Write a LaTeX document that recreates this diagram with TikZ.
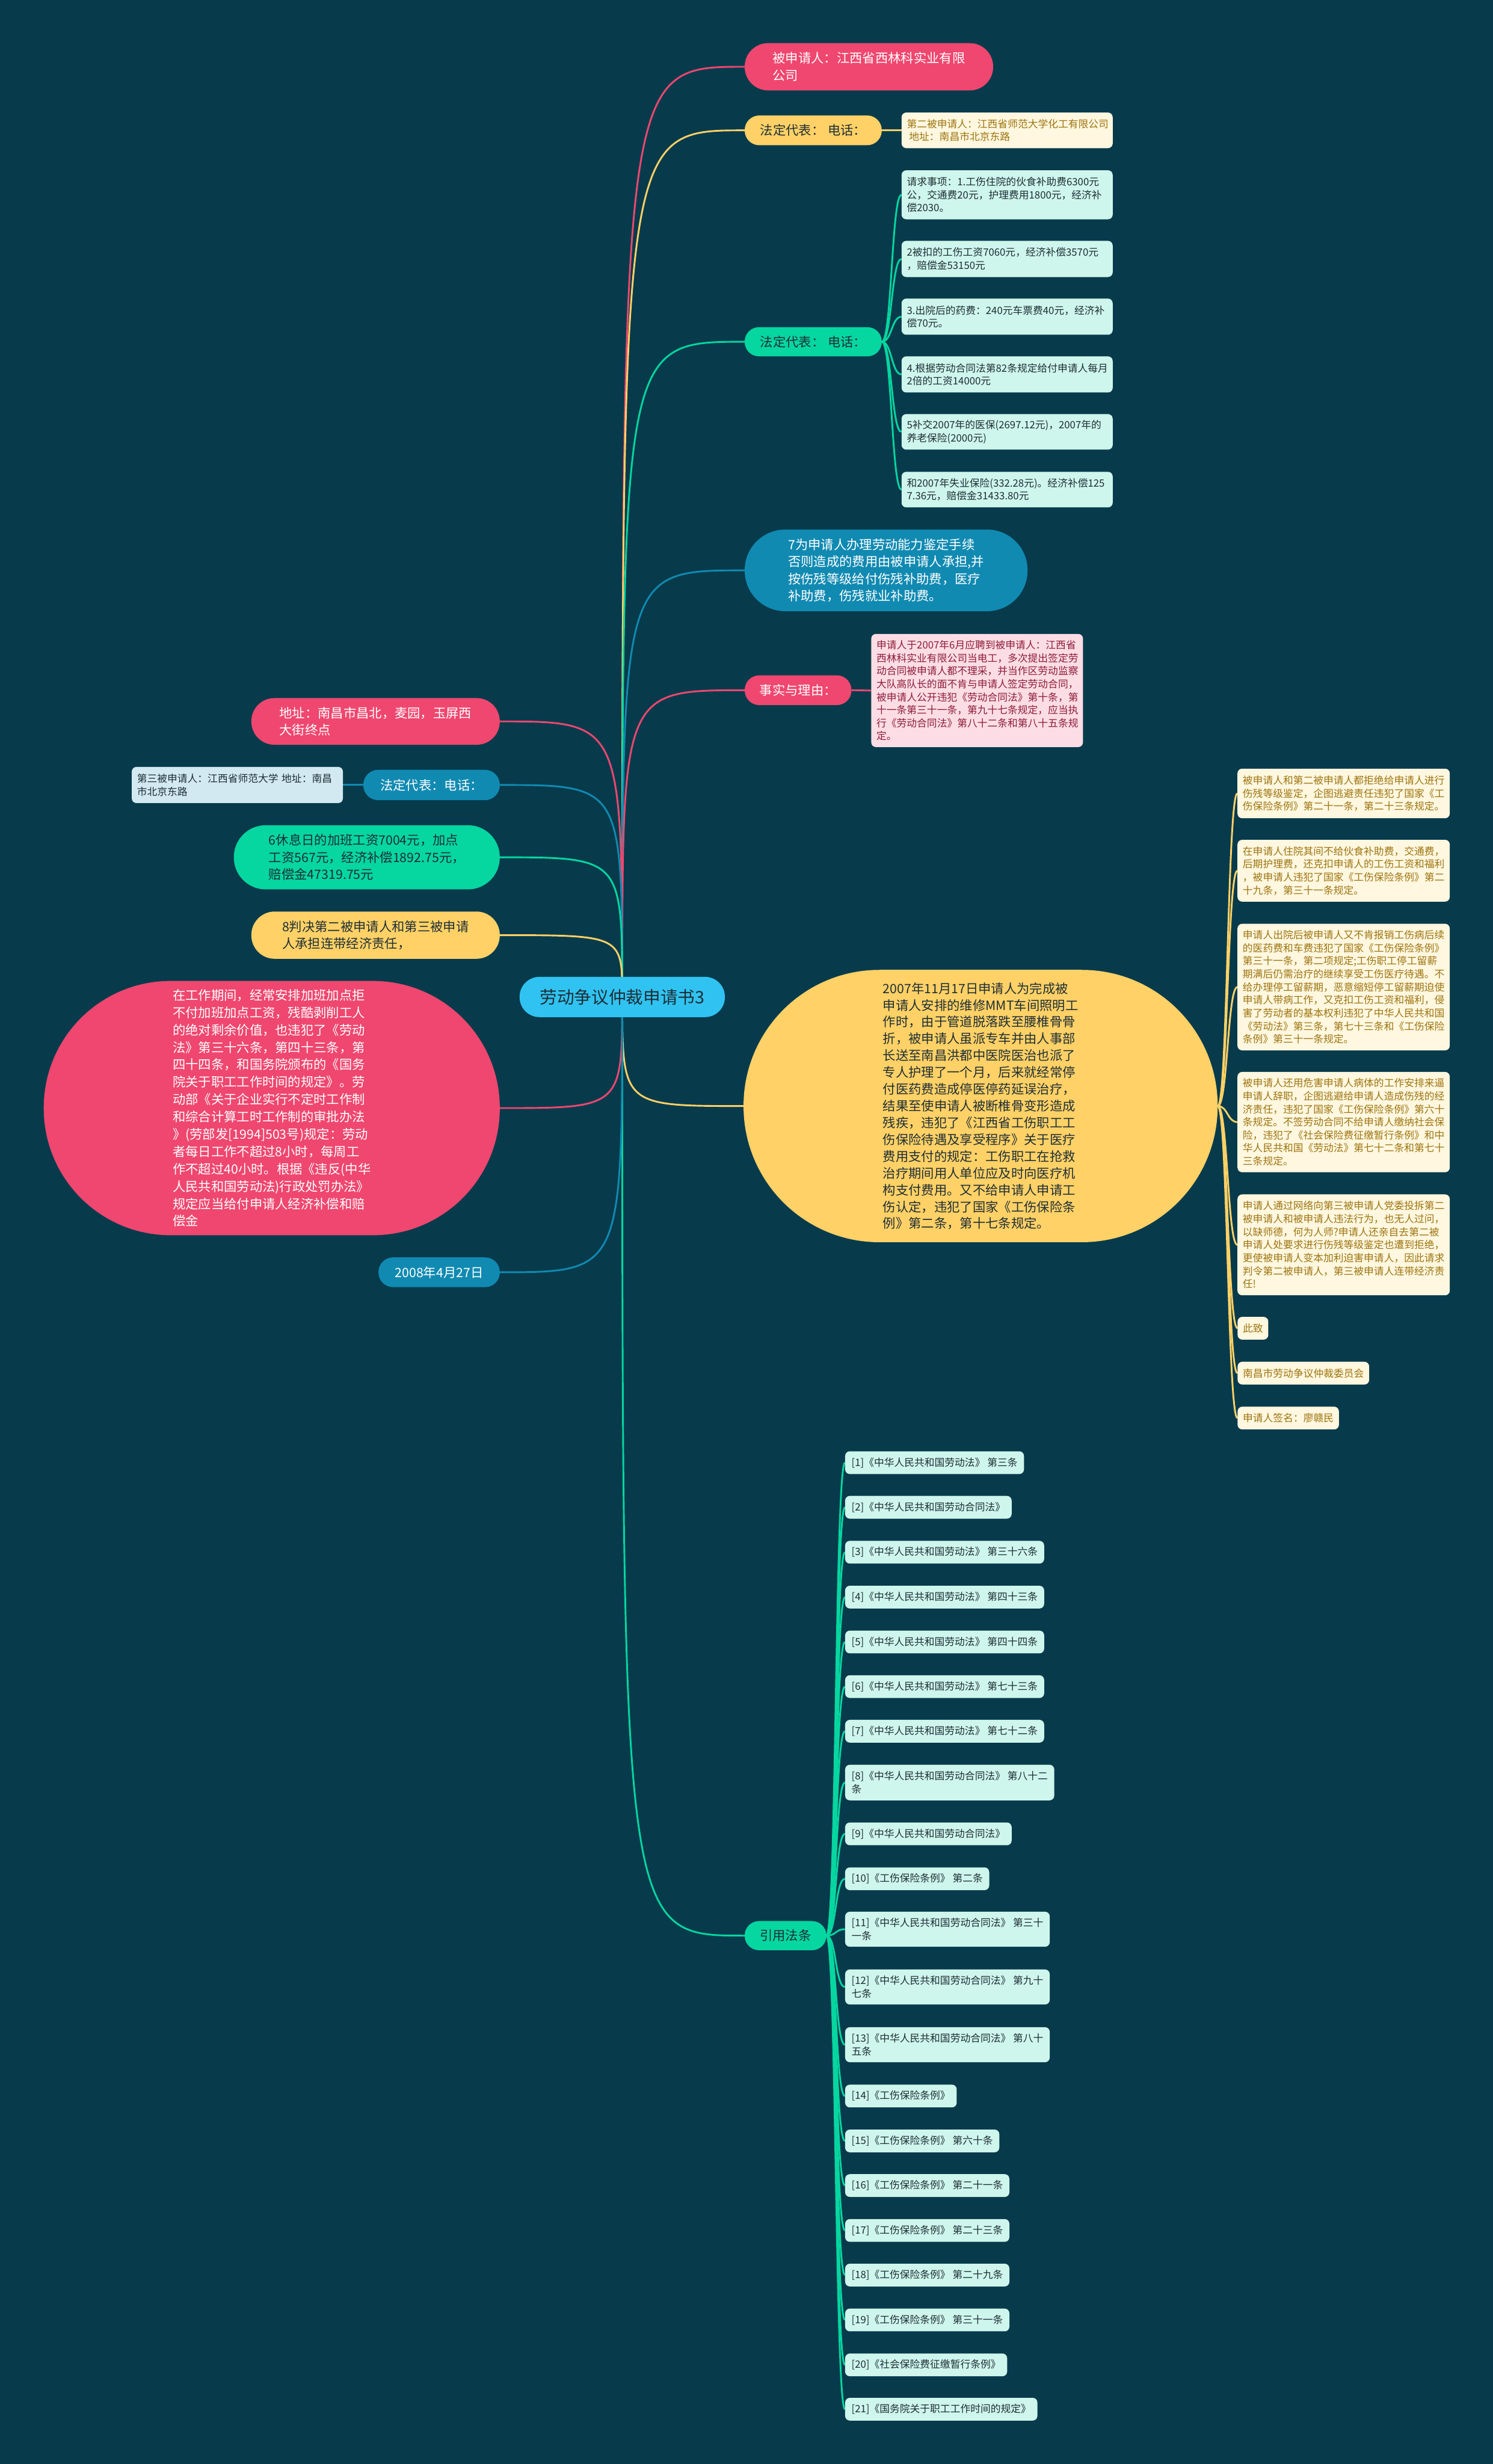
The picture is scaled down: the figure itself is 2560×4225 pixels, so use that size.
\documentclass[tikz,border=0pt]{standalone}
\usepackage{fontspec}
\setmainfont{Noto Sans CJK SC}
\usetikzlibrary{calc}
\definecolor{bgc}{HTML}{073B4C}
\definecolor{cpink}{HTML}{EF476F}
\definecolor{cyel}{HTML}{FFD166}
\definecolor{cgrn}{HTML}{06D6A0}
\definecolor{cblu}{HTML}{118AB2}
\definecolor{cctr}{HTML}{30C3F2}
\definecolor{fmint}{HTML}{CFF6EC}
\definecolor{fcream}{HTML}{FFF7DF}
\definecolor{fpink}{HTML}{FDDDE5}
\definecolor{fblue}{HTML}{D2E9F1}
\definecolor{tdark}{HTML}{1D2E35}
\definecolor{tcream}{HTML}{9C7410}
\definecolor{tpink}{HTML}{8C1C3A}
\pgfdeclarelayer{back}
\pgfdeclarelayer{lines}
\pgfsetlayers{back,lines,main}
\tikzset{
  lv/.style={inner sep=0pt, align=left, font=\fontsize{22}{29.5}\selectfont},
  pinkn/.style={lv, fill=cpink, text=white},
  yeln/.style={lv, fill=cyel, text=tdark},
  grnn/.style={lv, fill=cgrn, text=tdark},
  blun/.style={lv, fill=cblu, text=white},
  kid/.style={inner xsep=9pt, inner ysep=0pt, align=left, rounded corners=8pt,
              font=\fontsize{17.3}{22.3}\selectfont},
  mint/.style={kid, fill=fmint, text=tdark},
  cream/.style={kid, fill=fcream, text=tcream},
  pinkk/.style={kid, fill=fpink, text=tpink},
  bluek/.style={kid, fill=fblue, text=tdark},
  cite/.style={kid, fill=fmint, text=tdark, inner xsep=11pt, anchor=west, minimum height=39pt},
  ln/.style={line width=3pt},
}
\newcommand{\ctrlink}[3]{\draw[ln,#1] (O.center) .. controls (O.center |- #2.#3) .. (#2.#3);}
\newcommand{\rlink}[3]{\draw[ln,#1] (#2.east) .. controls +(17,0) and +(-17,0) .. (#3.west);}
\newcommand{\llink}[3]{\draw[ln,#1] (#2.west) .. controls +(-17,0) and +(17,0) .. (#3.east);}
\begin{document}
\begin{tikzpicture}[x=1pt,y=-1pt]
\begin{pgfonlayer}{back}
\fill[bgc] (0,0) rectangle (2560,4225);
\end{pgfonlayer}
\useasboundingbox (0,0) rectangle (2560,4225);

% center
\node[inner sep=0pt, fill=cctr, text=tdark, font=\fontsize{29.6}{36}\selectfont,
      minimum width=352pt, minimum height=69pt, rounded corners=34pt] (O) at (1067,1709.5) {劳动争议仲裁申请书3};

% ---- right side ----
\node[pinkn, minimum width=426pt, minimum height=81pt, rounded corners=40pt] (A) at (1490,114.5)
  {被申请人：江西省西林科实业有限\\公司};

\node[yeln, minimum width=235pt, minimum height=51pt, rounded corners=25pt] (B) at (1394.5,223.5)
  {法定代表：\hspace{6pt}电话：};
\node[cream, text width=344pt, minimum height=61pt] (B1) at (1727,223.5)
  {第二被申请人：江西省师范大学化工有限公司\\\hspace*{4pt}地址：南昌市北京东路};

\node[grnn, minimum width=235pt, minimum height=50pt, rounded corners=24.5pt] (C) at (1394.5,586)
  {法定代表：\hspace{6pt}电话：};
\node[mint, text width=344pt, minimum height=84pt] (C1) at (1727,334)
  {请求事项：1.工伤住院的伙食补助费6300元\\公，交通费20元，护理费用1800元，经济补\\偿2030。};
\node[mint, text width=344pt, minimum height=62pt] (C2) at (1727,444)
  {2被扣的工伤工资7060元，经济补偿3570元\\，赔偿金53150元};
\node[mint, text width=344pt, minimum height=62pt] (C3) at (1727,543)
  {3.出院后的药费：240元车票费40元，经济补\\偿70元。};
\node[mint, text width=344pt, minimum height=62pt] (C4) at (1727,642)
  {4.根据劳动合同法第82条规定给付申请人每月\\2倍的工资14000元};
\node[mint, text width=344pt, minimum height=61pt] (C5) at (1727,740.5)
  {5补交2007年的医保(2697.12元)，2007年的\\养老保险(2000元)};
\node[mint, text width=344pt, minimum height=61pt] (C6) at (1727,839.5)
  {和2007年失业保险(332.28元)。经济补偿125\\7.36元，赔偿金31433.80元};

\node[blun, minimum width=485pt, minimum height=140pt, rounded corners=69.5pt] (D) at (1519.5,978)
  {7为申请人办理劳动能力鉴定手续\\否则造成的费用由被申请人承担,并\\按伤残等级给付伤残补助费，医疗\\补助费，伤残就业补助费。};

\node[pinkn, minimum width=183pt, minimum height=51pt, rounded corners=25pt] (E) at (1368.5,1183.5)
  {事实与理由：};
\node[pinkk, text width=345pt, minimum height=194pt] (E1) at (1675.5,1184)
  {申请人于2007年6月应聘到被申请人：江西省\\西林科实业有限公司当电工，多次提出签定劳\\动合同被申请人都不理采，并当作区劳动监察\\大队高队长的面不肯与申请人签定劳动合同，\\被申请人公开违犯《劳动合同法》第十条，第\\十一条第三十一条，第九十七条规定，应当执\\行《劳动合同法》第八十二条和第八十五条规\\定。};

\node[yeln, font=\fontsize{22}{28.8}\selectfont, minimum width=813pt, minimum height=467pt, rounded corners=233pt] (F) at (1681.5,1896.5)
  {2007年11月17日申请人为完成被\\申请人安排的维修MMT车间照明工\\作时，由于管道脱落跌至腰椎骨骨\\折，被申请人虽派专车并由人事部\\长送至南昌洪都中医院医治也派了\\专人护理了一个月，后来就经常停\\付医药费造成停医停药延误治疗，\\结果至使申请人被断椎骨变形造成\\残疾，违犯了《江西省工伤职工工\\伤保险待遇及享受程序》关于医疗\\费用支付的规定：工伤职工在抢救\\治疗期间用人单位应及时向医疗机\\构支付费用。又不给申请人申请工\\伤认定，违犯了国家《工伤保险条\\例》第二条，第十七条规定。};
\node[cream, text width=346pt, minimum height=85pt] (F1) at (2304,1360.5)
  {被申请人和第二被申请人都拒绝给申请人进行\\伤残等级鉴定，企图逃避责任违犯了国家《工\\伤保险条例》第二十一条，第二十三条规定。};
\node[cream, text width=346pt, minimum height=106pt] (F2) at (2304,1493)
  {在申请人住院其间不给伙食补助费，交通费，\\后期护理费，还克扣申请人的工伤工资和福利\\，被申请人违犯了国家《工伤保险条例》第二\\十九条，第三十一条规定。};
\node[cream, text width=346pt, minimum height=217pt] (F3) at (2304,1692.5)
  {申请人出院后被申请人又不肯报销工伤病后续\\的医药费和车费违犯了国家《工伤保险条例》\\第三十一条，第二项规定;工伤职工停工留薪\\期满后仍需治疗的继续享受工伤医疗待遇。不\\给办理停工留薪期，恶意缩短停工留薪期迫使\\申请人带病工作，又克扣工伤工资和福利，侵\\害了劳动者的基本权利违犯了中华人民共和国\\《劳动法》第三条，第七十三条和《工伤保险\\条例》第三十一条规定。};
\node[cream, text width=346pt, minimum height=172pt] (F4) at (2304,1924)
  {被申请人还用危害申请人病体的工作安排来逼\\申请人辞职，企图逃避给申请人造成伤残的经\\济责任，违犯了国家《工伤保险条例》第六十\\条规定。不签劳动合同不给申请人缴纳社会保\\险，违犯了《社会保险费征缴暂行条例》和中\\华人民共和国《劳动法》第七十二条和第七十\\三条规定。};
\node[cream, text width=346pt, minimum height=173pt] (F5) at (2304,2134.5)
  {申请人通过网络向第三被申请人党委投拆第二\\被申请人和被申请人违法行为，也无人过问，\\以缺师德，何为人师?申请人还亲自去第二被\\申请人处要求进行伤残等级鉴定也遭到拒绝，\\更使被申请人变本加利迫害申请人，因此请求\\判令第二被申请人，第三被申请人连带经济责\\任!};
\node[cream, anchor=west, minimum height=39pt] (F6) at (2122,2277.5) {此致};
\node[cream, anchor=west, minimum height=39pt] (F7) at (2122,2354.5) {南昌市劳动争议仲裁委员会};
\node[cream, anchor=west, minimum height=39pt] (F8) at (2122,2431.5) {申请人签名：廖赣民};

\node[grnn, minimum width=140pt, minimum height=50pt, rounded corners=24.5pt] (G) at (1347,3319) {引用法条};
\node[cite] (G1) at (1449,2508) {[1]《中华人民共和国劳动法》 第三条};
\node[cite] (G2) at (1449,2584.5) {[2]《中华人民共和国劳动合同法》};
\node[cite] (G3) at (1449,2661.5) {[3]《中华人民共和国劳动法》 第三十六条};
\node[cite] (G4) at (1449,2738.5) {[4]《中华人民共和国劳动法》 第四十三条};
\node[cite] (G5) at (1449,2815.5) {[5]《中华人民共和国劳动法》 第四十四条};
\node[cite] (G6) at (1449,2892) {[6]《中华人民共和国劳动法》 第七十三条};
\node[cite] (G7) at (1449,2968.5) {[7]《中华人民共和国劳动法》 第七十二条};
\node[cite, minimum height=61pt] (G8) at (1449,3056.5) {[8]《中华人民共和国劳动合同法》 第八十二\\条};
\node[cite] (G9) at (1449,3144.5) {[9]《中华人民共和国劳动合同法》};
\node[cite] (G10) at (1449,3221.5) {[10]《工伤保险条例》 第二条};
\node[cite, minimum height=60pt] (G11) at (1449,3308) {[11]《中华人民共和国劳动合同法》 第三十\\一条};
\node[cite, minimum height=60pt] (G12) at (1449,3407) {[12]《中华人民共和国劳动合同法》 第九十\\七条};
\node[cite, minimum height=60pt] (G13) at (1449,3506) {[13]《中华人民共和国劳动合同法》 第八十\\五条};
\node[cite] (G14) at (1449,3594) {[14]《工伤保险条例》};
\node[cite] (G15) at (1449,3671) {[15]《工伤保险条例》 第六十条};
\node[cite] (G16) at (1449,3747.5) {[16]《工伤保险条例》 第二十一条};
\node[cite] (G17) at (1449,3824.5) {[17]《工伤保险条例》 第二十三条};
\node[cite] (G18) at (1449,3901) {[18]《工伤保险条例》 第二十九条};
\node[cite] (G19) at (1449,3978) {[19]《工伤保险条例》 第三十一条};
\node[cite] (G20) at (1449,4055) {[20]《社会保险费征缴暂行条例》};
\node[cite] (G21) at (1449,4131) {[21]《国务院关于职工工作时间的规定》};

% ---- left side ----
\node[pinkn, minimum width=426pt, minimum height=80pt, rounded corners=39.5pt] (H) at (644,1237)
  {地址：南昌市昌北，麦园，玉屏西\\大街终点};
\node[blun, minimum width=234pt, minimum height=52pt, rounded corners=25.5pt] (I) at (740,1346)
  {法定代表：电话：};
\node[bluek, text width=344pt, minimum height=62pt] (I1) at (407,1346)
  {第三被申请人：江西省师范大学~地址：南昌\\市北京东路};
\node[grnn, minimum width=456pt, minimum height=110pt, rounded corners=54.5pt] (J) at (629,1470)
  {6休息日的加班工资7004元，加点\\工资567元，经济补偿1892.75元，\\赔偿金47319.75元};
\node[yeln, minimum width=426pt, minimum height=81pt, rounded corners=40pt] (K) at (644,1603.5)
  {8判决第二被申请人和第三被申请\\人承担连带经济责任，};
\node[pinkn, font=\fontsize{22}{29.8}\selectfont, minimum width=782pt, minimum height=436pt, rounded corners=217.5pt] (L) at (466,1900)
  {在工作期间，经常安排加班加点拒\\不付加班加点工资，残酷剥削工人\\的绝对剩余价值，也违犯了《劳动\\法》第三十六条，第四十三条，第\\四十四条，和国务院颁布的《国务\\院关于职工工作时间的规定》。劳\\动部《关于企业实行不定时工作制\\和综合计算工时工作制的审批办法\\》(劳部发[1994]503号)规定：劳动\\者每日工作不超过8小时，每周工\\作不超过40小时。根据《违反(中华\\人民共和国劳动法)行政处罚办法》\\规定应当给付申请人经济补偿和赔\\偿金};
\node[blun, minimum width=208pt, minimum height=51pt, rounded corners=25pt] (M) at (753,2181.5)
  {2008年4月27日};

% ---- connectors ----
\begin{pgfonlayer}{lines}
\ctrlink{cpink}{A}{west}
\ctrlink{cyel}{B}{west}
\ctrlink{cgrn}{C}{west}
\ctrlink{cblu}{D}{west}
\ctrlink{cpink}{E}{west}
\ctrlink{cyel}{F}{west}
\ctrlink{cgrn}{G}{west}
\ctrlink{cpink}{H}{east}
\ctrlink{cblu}{I}{east}
\ctrlink{cgrn}{J}{east}
\ctrlink{cyel}{K}{east}
\ctrlink{cpink}{L}{east}
\ctrlink{cblu}{M}{east}
\rlink{cyel}{B}{B1}
\foreach \k in {C1,C2,C3,C4,C5,C6} {\rlink{cgrn}{C}{\k}}
\rlink{cpink}{E}{E1}
\foreach \k in {F1,F2,F3,F4,F5,F6,F7,F8} {\rlink{cyel}{F}{\k}}
\foreach \k in {G1,G2,G3,G4,G5,G6,G7,G8,G9,G10,G11,G12,G13,G14,G15,G16,G17,G18,G19,G20,G21} {\rlink{cgrn}{G}{\k}}
\llink{cblu}{I}{I1}
\end{pgfonlayer}
\end{tikzpicture}
\end{document}
